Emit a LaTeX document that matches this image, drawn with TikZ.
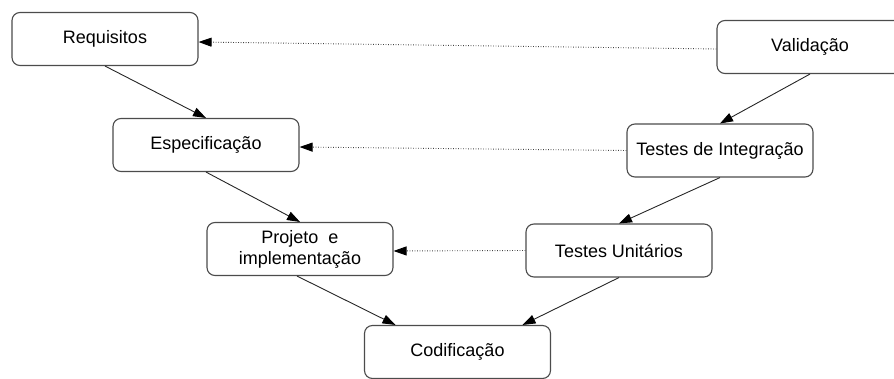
\documentclass[tikz,border=0pt]{standalone}
\usepackage{fontspec}
\setmainfont{Liberation Sans}
\usetikzlibrary{arrows.meta,calc}
\begin{document}
\begin{tikzpicture}[x=1pt,y=-1pt,
  stage/.style={draw=black!70, line width=1.1pt, rounded corners=8pt,
    minimum width=186pt, minimum height=53pt, fill=white, text=black,
    font=\fontsize{18}{21}\selectfont, align=center, inner sep=0pt},
  flow/.style={draw=black!85, line width=0.9pt,
    -{Triangle[length=13pt,width=9pt,color=black]}},
  trace/.style={draw=black!75, line width=0.9pt, dash pattern=on 0.9pt off 1.6pt,
    -{Triangle[length=13pt,width=9pt,color=black]}}]
\useasboundingbox (0,0) rectangle (894,379);

% left branch of the V
\node[stage] (req)  at (105,39)    {Requisitos};
\node[stage] (esp)  at (206,145)   {Especificação};
\node[stage] (proj) at (300,249)   {Projeto\ \ e\\implementação};
% bottom
\node[stage] (cod)  at (457.5,352) {Codificação};
% right branch of the V
\node[stage] (tu)   at (619,250.5) {Testes Unitários};
\node[stage] (ti)   at (720,150.5) {Testes de Integração};
\node[stage] (val)  at (810,47)    {Validação};

% development flow
\draw[flow] (req.south) -- (esp.north);
\draw[flow] (esp.south) -- (proj.north);
\draw[flow] ($(proj.south)+(-3,0)$) -- ($(cod.north)+(-62,0)$);
\draw[flow] (tu.south) -- ($(cod.north)+(65,0)$);
\draw[flow] (val.south) -- (ti.north);
\draw[flow] (ti.south) -- (tu.north);

% verification links
\draw[trace] ($(val.west)+(0,2)$) -- ($(req.east)+(0,3)$);
\draw[trace] (ti.west) -- ($(esp.east)+(0,2)$);
\draw[trace] (tu.west) -- ($(proj.east)+(0,2)$);
\end{tikzpicture}
\end{document}
